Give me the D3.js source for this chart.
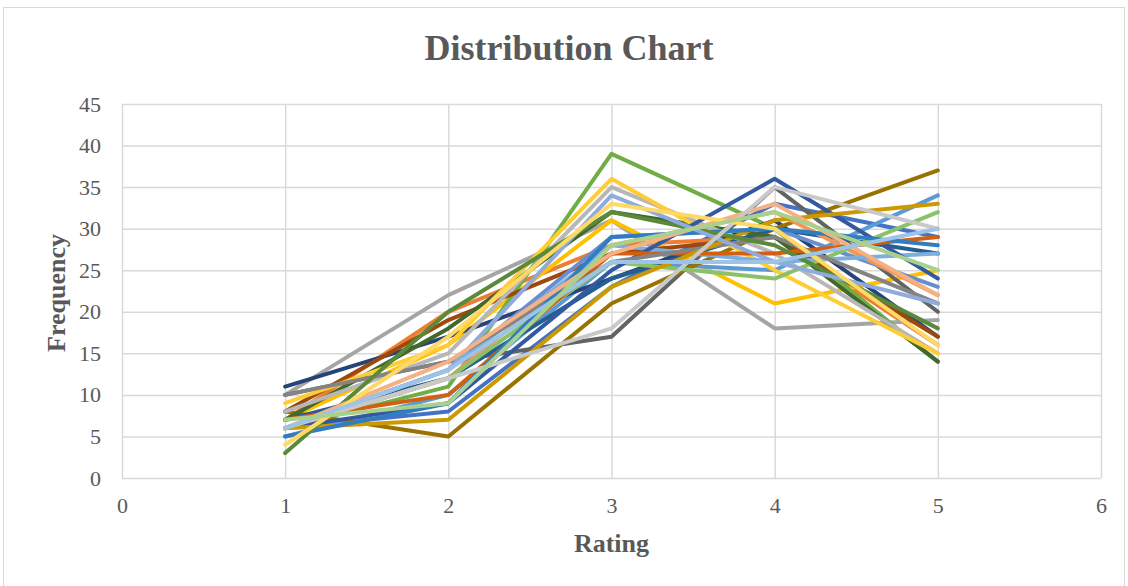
<!DOCTYPE html>
<html>
<head>
<meta charset="utf-8">
<script src="https://cdn.jsdelivr.net/npm/d3@7"></script>
<style>
  html, body { margin: 0; padding: 0; background: #fff; }
  svg { display: block; }
</style>
</head>
<body>
<svg id="chart" width="1128" height="586"></svg>
<script>
// Rating categories on the x axis
const ratings = [1, 2, 3, 4, 5];

// Frequency of each rating, one array per item
const s01 = [6, 8, 23, 33, 29];
const s02 = [7, 20, 28, 29, 16];
const s03 = [10, 22, 31, 18, 19];
const s04 = [7, 16, 31, 21, 25];
const s05 = [5, 10, 26, 25, 34];
const s06 = [6, 11, 39, 30, 14];
const s07 = [11, 17, 24, 31, 17];
const s08 = [8, 19, 27, 29, 17];
const s09 = [10, 14, 17, 35, 20];
const s10 = [8, 5, 21, 30, 37];
const s11 = [7, 12, 24, 30, 27];
const s12 = [7, 18, 32, 29, 14];
const s13 = [6, 13, 29, 30, 23];
const s14 = [6, 12, 28, 32, 22];
const s15 = [8, 15, 35, 27, 15];
const s16 = [9, 16, 36, 25, 15];
const s17 = [6, 13, 28, 26, 27];
const s18 = [6, 12, 26, 24, 32];
const s19 = [6, 9, 25, 36, 24];
const s20 = [7, 10, 27, 27, 29];
const s21 = [10, 14, 26, 29, 21];
const s22 = [6, 7, 23, 31, 33];
const s23 = [5, 9, 29, 30, 28];
const s24 = [3, 20, 32, 28, 18];
const s25 = [6, 13, 34, 26, 21];
const s26 = [6, 14, 27, 33, 22];
const s27 = [6, 12, 18, 35, 30];
const s28 = [4, 17, 33, 30, 16];
const s29 = [6, 13, 26, 26, 30];
const s30 = [7, 9, 28, 32, 25];

const seriesValues = [s01, s02, s03, s04, s05, s06, s07, s08, s09, s10,
                      s11, s12, s13, s14, s15, s16, s17, s18, s19, s20,
                      s21, s22, s23, s24, s25, s26, s27, s28, s29, s30];

const seriesColors = ["#4472C4", "#ED7D31", "#A5A5A5", "#FFC000", "#5B9BD5", "#70AD47",
                      "#264478", "#9E480E", "#636363", "#997300", "#255E91", "#43682B",
                      "#698ED0", "#F1975A", "#B7B7B7", "#FFCD33", "#7CAFDD", "#8CC168",
                      "#335AA1", "#D26012", "#848484", "#CC9A00", "#327DC2", "#5A8A39",
                      "#8FAADC", "#F4B183", "#C9C9C9", "#FFD966", "#9DC3E6", "#A9D18E"];

const xTicks = [0, 1, 2, 3, 4, 5, 6];
const yTicks = [0, 5, 10, 15, 20, 25, 30, 35, 40, 45];

const svg = d3.select("#chart");
const W = 1128, H = 586;
const plot = { left: 122, right: 1101, top: 104, bottom: 478 };
const textColor = "#595959";
const serif = "'Liberation Serif', 'Times New Roman', serif";

// Chart frame
svg.append("rect")
  .attr("x", 3.5).attr("y", 7.5)
  .attr("width", W - 7).attr("height", H + 10)
  .attr("fill", "#fff").attr("stroke", "#D9D9D9").attr("stroke-width", 1);

const x = d3.scaleLinear().domain([0, 6]).range([plot.left, plot.right]);
const y = d3.scaleLinear().domain([0, 45]).range([plot.bottom, plot.top]);

// Horizontal gridlines with value labels
const yAxis = d3.axisLeft(y).tickValues(yTicks).tickFormat(d3.format("d"))
  .tickSize(-(plot.right - plot.left)).tickPadding(21);
const gy = svg.append("g").attr("transform", `translate(${plot.left},0)`).call(yAxis);
gy.select(".domain").remove();
gy.selectAll(".tick line").attr("stroke", "#D9D9D9").attr("stroke-width", 1.5);
gy.selectAll(".tick text")
  .attr("fill", textColor).style("font-family", serif).style("font-size", "22px");

// Vertical gridlines with rating labels
const xAxis = d3.axisBottom(x).tickValues(xTicks).tickFormat(d3.format("d"))
  .tickSize(-(plot.bottom - plot.top)).tickPadding(19);
const gx = svg.append("g").attr("transform", `translate(0,${plot.bottom})`).call(xAxis);
gx.select(".domain").remove();
gx.selectAll(".tick line").attr("stroke", "#D9D9D9").attr("stroke-width", 1.5);
gx.selectAll(".tick text")
  .attr("fill", textColor).style("font-family", serif).style("font-size", "22px");

// One line per item
const line = d3.line()
  .x((d, i) => x(ratings[i]))
  .y(d => y(d));

svg.append("g")
  .selectAll("path")
  .data(seriesValues)
  .join("path")
  .attr("d", line)
  .attr("fill", "none")
  .attr("stroke", (d, i) => seriesColors[i])
  .attr("stroke-width", 4)
  .attr("stroke-linejoin", "round")
  .attr("stroke-linecap", "round");

// Title and axis titles
svg.append("text")
  .attr("x", 569).attr("y", 60)
  .attr("text-anchor", "middle")
  .attr("fill", textColor)
  .style("font-family", serif).style("font-size", "36px").style("font-weight", "bold")
  .text("Distribution Chart");

svg.append("text")
  .attr("x", (plot.left + plot.right) / 2).attr("y", 552)
  .attr("text-anchor", "middle")
  .attr("fill", textColor)
  .style("font-family", serif).style("font-size", "26px").style("font-weight", "bold")
  .text("Rating");

svg.append("text")
  .attr("transform", `translate(65,${(plot.top + plot.bottom) / 2 + 2}) rotate(-90)`)
  .attr("text-anchor", "middle")
  .attr("fill", textColor)
  .style("font-family", serif).style("font-size", "26px").style("font-weight", "bold")
  .text("Frequency");
</script>
</body>
</html>
